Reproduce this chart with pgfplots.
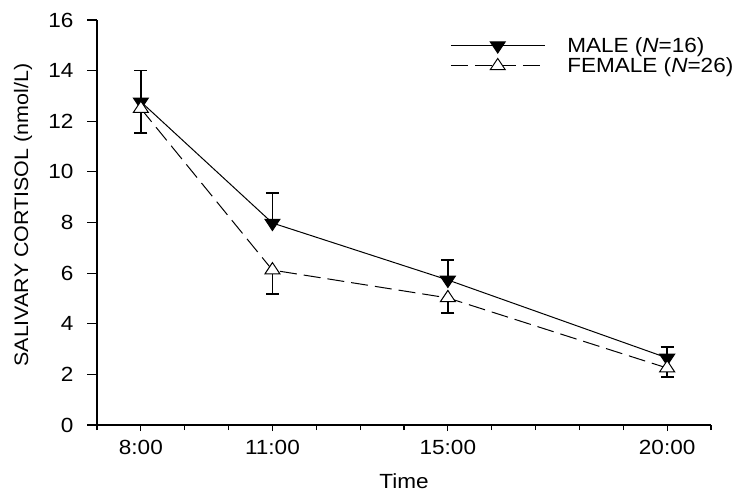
\documentclass[border=0pt]{standalone}
\usepackage{fontspec}
\setmainfont{Liberation Sans}[FakeStretch=1.1]
\usepackage{pgfplots}
\pgfplotsset{compat=1.18}
\begin{document}
\begin{tikzpicture}
\begin{axis}[
  name=ax,
  scale only axis, width=614pt, height=405pt,
  xmin=7, xmax=21, ymin=0, ymax=16,
  axis x line=bottom, axis y line=left,
  axis line style={line width=1.3pt, -},
  xtick={8,11,15,20}, xticklabels={8:00,11:00,15:00,20:00},
  minor xtick={7,9,10,12,13,14,16,17,18,19,21},
  ytick={0,2,...,16},
  tick align=outside,
  major tick length=6pt, minor tick length=5pt,
  tick style={line width=1.1pt, black},
  ytick style={/pgfplots/major tick length=9.5pt},
  font=\fontsize{20.5}{24}\selectfont,
  tick label style={font=\fontsize{20.5}{24}\selectfont},
  xticklabel style={yshift=-6pt},
  yticklabel style={xshift=-14pt},
  /pgf/number format/assume math mode=true,
  xlabel={Time}, ylabel={SALIVARY CORTISOL (nmol/L)},
  xlabel style={at={(axis description cs:0.5,-0.138)}, anchor=center},
  ylabel style={at={(axis description cs:-0.1205,0.518)}, anchor=center,
    font=\fontsize{19.5}{23}\selectfont},
  legend style={at={(axis cs:15.05,15.4)}, anchor=north west, draw=none, fill=none,
    inner sep=0pt, row sep=0pt, cells={anchor=west},
    font=\fontsize{20.5}{24}\selectfont},
  legend image code/.code={\draw[mark repeat=2,mark phase=2,#1] plot coordinates {(0pt,0pt) (47pt,0pt) (94pt,0pt)};},
]
\addplot[black, line width=1pt, mark=triangle*, mark size=7.5pt,
  mark options={rotate=180, xscale=1.15, solid, fill=black},
  error bars/.cd, y dir=plus, y explicit,
  error bar style={line width=1.5pt, solid},
  error mark options={rotate=90, mark size=6.5pt, line width=1.3pt, solid}]
  coordinates {
  (8,12.77) +- (0,1.23)
  (11,7.98) +- (0,1.19)
  (15,5.73) +- (0,0.79)
  (20,2.65) +- (0,0.43)};
\addlegendentry{\hspace*{20pt}MALE (\textit{N}=16)}
\addplot[black, line width=1pt, dash pattern=on 17pt off 7pt, mark=triangle*, mark size=7.5pt,
  mark options={solid, xscale=1.15, fill=white},
  error bars/.cd, y dir=minus, y explicit,
  error bar style={line width=1.5pt, solid},
  error mark options={rotate=90, mark size=6.5pt, line width=1.3pt, solid}]
  coordinates {
  (8,12.50) +- (0,0.96)
  (11,6.12) +- (0,0.94)
  (15,5.02) +- (0,0.60)
  (20,2.25) +- (0,0.35)};
\addlegendentry{\hspace*{20pt}FEMALE (\textit{N}=26)}
\end{axis}
\path (ax.south west) ++(-97pt,-68pt) rectangle ++(746pt,493pt);
\end{tikzpicture}
\end{document}
